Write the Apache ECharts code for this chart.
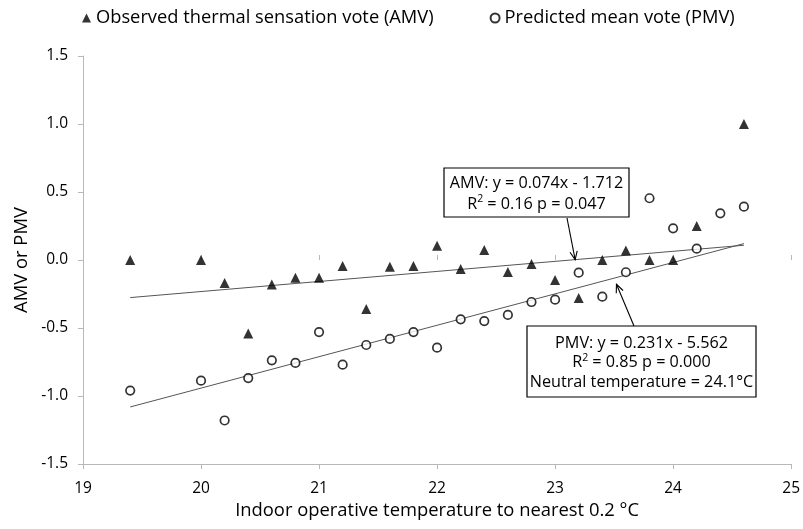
<!DOCTYPE html>
<html>
<head>
<meta charset="utf-8">
<script src="https://cdn.jsdelivr.net/npm/echarts@6/dist/echarts.min.js"></script>
<style>
  html, body { margin: 0; padding: 0; background: #fff; }
  #chart { width: 803px; height: 529px; }
</style>
</head>
<body>
<div id="chart"></div>
<script>
// Indoor operative temperature bins (°C)
const tempAMV = [19.4, 20.0, 20.2, 20.4, 20.6, 20.8, 21.0, 21.2, 21.4, 21.6, 21.8, 22.0,
                 22.2, 22.4, 22.6, 22.8, 23.0, 23.2, 23.4, 23.6, 23.8, 24.0, 24.2, 24.6];
// Observed thermal sensation vote
const amv = [0.00, 0.00, -0.17, -0.54, -0.18, -0.13, -0.13, -0.045, -0.36, -0.05, -0.045, 0.105,
             -0.066, 0.074, -0.088, -0.03, -0.147, -0.28, 0.00, 0.07, 0.00, 0.00, 0.25, 1.00];

const tempPMV = [19.4, 20.0, 20.2, 20.4, 20.6, 20.8, 21.0, 21.2, 21.4, 21.6, 21.8, 22.0,
                 22.2, 22.4, 22.6, 22.8, 23.0, 23.2, 23.4, 23.6, 23.8, 24.0, 24.2, 24.4, 24.6];
// Predicted mean vote
const pmv = [-0.96, -0.887, -1.18, -0.868, -0.738, -0.757, -0.53, -0.77, -0.625, -0.58, -0.53, -0.645,
             -0.436, -0.449, -0.404, -0.309, -0.292, -0.093, -0.27, -0.09, 0.454, 0.233, 0.083, 0.343, 0.392];

// Linear regressions
const amvFit = { slope: 0.074, intercept: -1.712 };
const pmvFit = { slope: 0.231, intercept: -5.562 };
const fitRange = [19.4, 24.6];

const xTicks = { min: 19, max: 25, interval: 1 };
const yTicks = { min: -1.5, max: 1.5, interval: 0.5 };

const amvLabel = ['AMV: y = 0.074x - 1.712', 'R{sup|2} = 0.16 p = 0.047'];
const pmvLabel = ['PMV: y = 0.231x - 5.562', 'R{sup|2} = 0.85 p = 0.000', 'Neutral temperature = 24.1°C'];

const FONT = 'Open Sans';
const zip = (xs, ys) => xs.map((x, i) => [x, ys[i]]);
const fitLine = f => fitRange.map(x => [x, f.slope * x + f.intercept]);

const chart = echarts.init(document.getElementById('chart'));

const axisLineStyle = { color: '#b8b8b8', width: 1 };

chart.setOption({
  animation: false,
  textStyle: { fontFamily: FONT },
  grid: { left: 83, right: 10, top: 56, bottom: 65 },
  legend: {
    top: 4,
    left: 77,
    itemGap: 56,
    itemWidth: 9,
    itemHeight: 9,
    textStyle: { fontFamily: FONT, fontSize: 18.3, color: '#000' },
    data: [
      { name: 'Observed thermal sensation vote (AMV)', icon: 'triangle',
        itemStyle: { color: '#000' } },
      { name: 'Predicted mean vote (PMV)', icon: 'emptyCircle',
        itemStyle: { color: '#000', borderColor: '#000', borderWidth: 1 } }
    ]
  },
  xAxis: [{
    type: 'value',
    min: xTicks.min, max: xTicks.max, interval: xTicks.interval,
    name: 'Indoor operative temperature to nearest 0.2 °C',
    nameLocation: 'middle',
    nameGap: 35,
    nameTextStyle: { fontSize: 18.4, color: '#000', fontFamily: FONT },
    splitLine: { show: false },
    axisLine: { onZero: false, lineStyle: axisLineStyle },
    axisTick: { length: 5, lineStyle: axisLineStyle },
    axisLabel: { fontSize: 15.5, color: '#000', margin: 17, fontFamily: FONT }
  }, {
    type: 'value',
    position: 'bottom',
    min: xTicks.min, max: xTicks.max, interval: xTicks.interval,
    splitLine: { show: false },
    axisLine: { show: false },
    axisTick: { inside: true, length: 5, lineStyle: axisLineStyle },
    axisLabel: { show: false }
  }],
  yAxis: {
    type: 'value',
    min: yTicks.min, max: yTicks.max, interval: yTicks.interval,
    name: 'AMV or PMV',
    nameLocation: 'middle',
    nameGap: 52,
    nameTextStyle: { fontSize: 18.4, color: '#000', fontFamily: FONT },
    splitLine: { show: false },
    axisLine: { show: true, onZero: false, lineStyle: axisLineStyle },
    axisTick: { show: true, length: 5, lineStyle: axisLineStyle },
    axisLabel: { fontSize: 15.5, color: '#000', margin: 15, fontFamily: FONT,
                 formatter: v => v.toFixed(1) }
  },
  series: [
    {
      name: 'AMV trend', type: 'line', data: fitLine(amvFit),
      symbol: 'none', silent: true, z: 1,
      lineStyle: { color: '#555', width: 1 }
    },
    {
      name: 'PMV trend', type: 'line', data: fitLine(pmvFit),
      symbol: 'none', silent: true, z: 1,
      lineStyle: { color: '#555', width: 1 }
    },
    {
      name: 'Observed thermal sensation vote (AMV)', type: 'scatter',
      data: zip(tempAMV, amv),
      symbol: 'triangle', symbolSize: 10, z: 3,
      itemStyle: { color: '#000' }
    },
    {
      name: 'Predicted mean vote (PMV)', type: 'scatter',
      data: zip(tempPMV, pmv),
      symbol: 'circle', symbolSize: 8.5, z: 3,
      itemStyle: { color: '#fff', borderColor: '#000', borderWidth: 1.7 }
    }
  ]
});

// Annotation boxes with leader arrows pointing at each regression line
function arrow(from, to) {
  const dx = to[0] - from[0], dy = to[1] - from[1];
  const len = Math.hypot(dx, dy);
  const ux = dx / len, uy = dy / len;
  const head = 9, spread = 0.42;
  const wing = s => {
    const c = Math.cos(s), sn = Math.sin(s);
    const rx = -(ux * c - uy * sn), ry = -(ux * sn + uy * c);
    return [to[0] + rx * head, to[1] + ry * head];
  };
  return [
    { type: 'line', shape: { x1: from[0], y1: from[1], x2: to[0], y2: to[1] },
      style: { stroke: '#000', lineWidth: 1.1 }, z: 10 },
    { type: 'polyline', shape: { points: [wing(spread), to, wing(-spread)] },
      style: { stroke: '#000', lineWidth: 1.1, fill: null }, z: 10 }
  ];
}

function box(x, y, w, h, lines, lineHeight) {
  return {
    type: 'group', x: x, y: y, z: 10,
    children: [
      { type: 'rect', shape: { x: 0, y: 0, width: w, height: h },
        style: { fill: '#fff', stroke: '#000', lineWidth: 1.2 } },
      { type: 'text', x: w / 2, y: h / 2 + 1,
        style: {
          text: lines.join('\n'),
          align: 'center', verticalAlign: 'middle',
          fontFamily: FONT, fontSize: 16.2, lineHeight: lineHeight, fill: '#000',
          rich: { sup: { fontSize: 10.5, verticalAlign: 'top', lineHeight: 12, padding: [0, 0, 6, 0], fontFamily: FONT } }
        } }
    ]
  };
}

const amvTip = chart.convertToPixel({ xAxisIndex: 0, yAxisIndex: 0 }, [23.17, amvFit.slope * 23.17 + amvFit.intercept]);
const pmvTip = chart.convertToPixel({ xAxisIndex: 0, yAxisIndex: 0 }, [23.52, pmvFit.slope * 23.52 + pmvFit.intercept - 0.05]);

chart.setOption({
  graphic: [
    box(444, 168, 185, 49, amvLabel, 21),
    box(527, 326, 229, 71, pmvLabel, 19.5),
    ...arrow([567, 218], amvTip),
    ...arrow([634, 326], pmvTip)
  ]
});
</script>
</body>
</html>
